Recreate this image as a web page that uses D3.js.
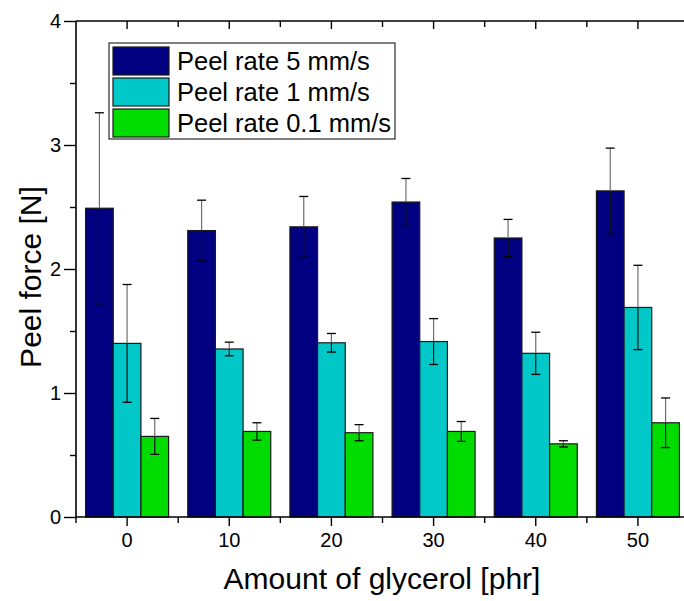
<!DOCTYPE html>
<html>
<head>
<meta charset="UTF-8">
<title>Peel force</title>
<style>
body{ margin:0; background:#fff; overflow:hidden; }
svg{ display:block; font-family:"Liberation Sans", Arial, sans-serif; }
</style>
</head>
<body>
<script src="https://cdn.jsdelivr.net/npm/d3@7/dist/d3.min.js"></script>
<script>
var glycerol = ["0", "10", "20", "30", "40", "50"];
var seriesNames = ["Peel rate 5 mm/s", "Peel rate 1 mm/s", "Peel rate 0.1 mm/s"];
var seriesColors = ["#000080", "#00c8c8", "#00dc00"];
var rate5 = [2.49, 2.31, 2.34, 2.54, 2.25, 2.63];
var rate5Err = [0.77, 0.245, 0.245, 0.19, 0.15, 0.345];
var rate1 = [1.40, 1.355, 1.405, 1.415, 1.32, 1.69];
var rate1Err = [0.475, 0.055, 0.075, 0.185, 0.17, 0.34];
var rate01 = [0.65, 0.69, 0.68, 0.69, 0.59, 0.76];
var rate01Err = [0.145, 0.07, 0.065, 0.08, 0.025, 0.2];
var yTicks = [0, 1, 2, 3, 4];

var width = 684, height = 601;
var pL = 76, pT = 21, pR = 689, pB = 517;

var svg = d3.select("body").append("svg")
    .attr("width", width)
    .attr("height", height);

var x = d3.scaleBand().domain(glycerol).range([pL, pR]).paddingInner(0).paddingOuter(0);
var inner = d3.scaleBand().domain([0, 1, 2]).range([-41.5, 41.5]);
var y = d3.scaleLinear().domain([0, 4]).range([pB, pT]);
var yRight = d3.scaleLinear().domain([0, 6]).range([pB, pT]);

var series = [
    {vals: rate5, err: rate5Err},
    {vals: rate1, err: rate1Err},
    {vals: rate01, err: rate01Err}
];

// bars
series.forEach(function(s, si){
    svg.append("g").selectAll("rect")
        .data(s.vals)
        .enter().append("rect")
        .attr("x", function(d, i){ return x(glycerol[i]) + x.bandwidth() / 2 + inner(si); })
        .attr("y", function(d){ return y(d); })
        .attr("width", inner.bandwidth())
        .attr("height", function(d){ return y(0) - y(d); })
        .attr("fill", seriesColors[si])
        .attr("stroke", "#1a1a1a")
        .attr("stroke-width", 1.2);
});

// error bars
series.forEach(function(s, si){
    var g = svg.append("g");
    s.vals.forEach(function(v, i){
        var cx = x(glycerol[i]) + x.bandwidth() / 2 + inner(si) + inner.bandwidth() / 2;
        var hi = y(v + s.err[i]), lo = y(v - s.err[i]), mid = y(v);
        g.append("line").attr("x1", cx).attr("x2", cx).attr("y1", hi).attr("y2", mid)
            .attr("stroke", "#6e6e6e").attr("stroke-width", 1.2);
        g.append("line").attr("x1", cx).attr("x2", cx).attr("y1", mid).attr("y2", lo)
            .attr("stroke", "#111").attr("stroke-width", 1.2);
        [hi, lo].forEach(function(yy){
            g.append("line").attr("x1", cx - 4.5).attr("x2", cx + 4.5).attr("y1", yy).attr("y2", yy)
                .attr("stroke", "#000").attr("stroke-width", 1.3);
        });
    });
});

// frame lines (right edge lies outside the window)
var frame = svg.append("g").attr("stroke", "#000").attr("stroke-width", 1.6);
frame.append("line").attr("x1", pL).attr("x2", pL).attr("y1", pT).attr("y2", pB);
frame.append("line").attr("x1", pL).attr("x2", pR).attr("y1", pB).attr("y2", pB);
frame.append("line").attr("x1", pL).attr("x2", pR).attr("y1", pT).attr("y2", pT);

// left axis
var yAxis = d3.axisLeft(y).tickValues(yTicks).tickSize(12).tickPadding(3).tickFormat(d3.format("d"));
var gy = svg.append("g").attr("transform", "translate(" + pL + ",0)").call(yAxis);
gy.select(".domain").remove();
gy.attr("font-size", 20).attr("font-family", "Liberation Sans, Arial, sans-serif");
gy.selectAll(".tick line").attr("stroke-width", 1.4);
gy.selectAll(".tick text").attr("fill", "#000");
var gyMinor = svg.append("g").attr("transform", "translate(" + pL + ",0)")
    .call(d3.axisLeft(y).tickValues([0.5, 1.5, 2.5, 3.5]).tickSize(6).tickFormat(""));
gyMinor.select(".domain").remove();
gyMinor.selectAll(".tick line").attr("stroke-width", 1.4);

// right axis ticks (inward, only their tips show)
var gr = svg.append("g").attr("transform", "translate(" + (pR - 1) + ",0)")
    .call(d3.axisLeft(yRight).ticks(6).tickSize(-7).tickFormat(""));
gr.select(".domain").remove();
gr.selectAll(".tick line").attr("stroke-width", 1.4);

// bottom axis
var xAxis = d3.axisBottom(x).tickSize(9).tickPadding(7);
var gx = svg.append("g").attr("transform", "translate(0," + pB + ")").call(xAxis);
gx.select(".domain").remove();
gx.attr("font-size", 20).attr("font-family", "Liberation Sans, Arial, sans-serif");
gx.selectAll(".tick line").attr("stroke-width", 1.4);
gx.selectAll(".tick text").attr("fill", "#000");
var edges = glycerol.map(function(c){ return x(c); });
svg.append("g").selectAll("line").data(edges).enter().append("line")
    .attr("x1", function(d){ return d; }).attr("x2", function(d){ return d; })
    .attr("y1", pB).attr("y2", pB + 6)
    .attr("stroke", "#000").attr("stroke-width", 1.4);

// top axis ticks (inward)
var topTicks = glycerol.map(function(c){ return x(c) + x.bandwidth() / 2; });
svg.append("g").selectAll("line").data(topTicks).enter().append("line")
    .attr("x1", function(d){ return d; }).attr("x2", function(d){ return d; })
    .attr("y1", pT).attr("y2", pT + 8)
    .attr("stroke", "#000").attr("stroke-width", 1.4);
svg.append("g").selectAll("line").data(edges.slice(1)).enter().append("line")
    .attr("x1", function(d){ return d; }).attr("x2", function(d){ return d; })
    .attr("y1", pT).attr("y2", pT + 6)
    .attr("stroke", "#000").attr("stroke-width", 1.4);

// axis titles
svg.append("text")
    .attr("x", 382)
    .attr("y", 589)
    .attr("text-anchor", "middle")
    .attr("font-size", 30)
    .text("Amount of glycerol [phr]");
svg.append("text")
    .attr("transform", "translate(41," + ((pT + pB) / 2 + 8) + ") rotate(-90)")
    .attr("text-anchor", "middle")
    .attr("font-size", 30)
    .text("Peel force [N]");

// legend
var legend = svg.append("g");
legend.append("rect")
    .attr("x", 109).attr("y", 43).attr("width", 286).attr("height", 96)
    .attr("fill", "#fff").attr("stroke", "#000").attr("stroke-width", 1);
seriesNames.forEach(function(name, i){
    legend.append("rect")
        .attr("x", 113).attr("y", 47 + i * 31).attr("width", 56).attr("height", 28)
        .attr("fill", seriesColors[i]).attr("stroke", "#1a1a1a").attr("stroke-width", 1.2);
    legend.append("text")
        .attr("x", 177).attr("y", 70 + i * 31)
        .attr("font-size", 25.5)
        .text(name);
});
</script>
</body>
</html>
